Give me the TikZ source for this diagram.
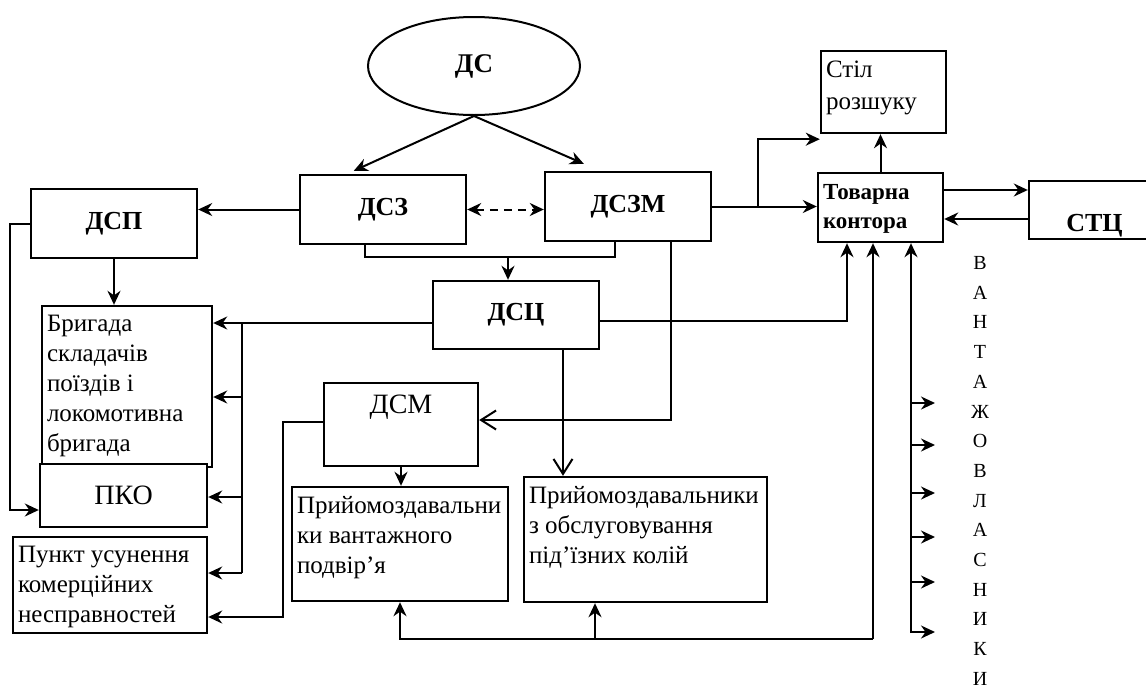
\documentclass[tikz,border=0pt]{standalone}
\usepackage{fontspec}
\setmainfont{Liberation Serif}
\usepackage{tikz}
\usetikzlibrary{shapes.geometric, arrows.meta}
\tikzstyle{block} = [rectangle, draw=black, line width=2.4pt, inner sep=0pt, minimum width=166pt, minimum height=69pt, font=\fontsize{26}{30}\selectfont\bfseries]
\tikzstyle{box} = [rectangle, draw=black, line width=2.4pt, inner sep=0pt]
\tikzstyle{boxtext} = [anchor=north west, align=left, inner xsep=6pt, inner ysep=10pt, font=\fontsize{25}{30}\selectfont]
\tikzstyle{arrow} = [line width=2pt, -{Stealth[length=14pt,width=13pt]}]
\tikzstyle{varrow} = [line width=2pt, -{Straight Barb[length=15pt,width=19pt]}]
\tikzstyle{darrow} = [line width=2pt, dash pattern=on 8pt off 6pt, {Stealth[length=14pt,width=13pt]}-{Stealth[length=14pt,width=13pt]}]
\tikzstyle{line} = [line width=2pt]
\tikzstyle{letter} = [inner sep=0pt, font=\fontsize{20}{20}\selectfont]

\begin{document}
\begin{tikzpicture}[x=1pt, y=-1pt]
\clip (0,0) rectangle (1146,691);
% blocks
\node[ellipse, draw, line width=2pt, minimum width=212pt, minimum height=98pt, font=\fontsize{27}{30}\selectfont\bfseries] (ds) at (474,66) {ДС};
\node[block] (dsz) at (383,209.5) {ДСЗ};
\node[block] (dszm) at (628,206.5) {ДСЗМ};
\node[block] (dsp) at (114,223.5) {ДСП};
\node[block, minimum height=68pt] (dsc) at (516,315) {ДСЦ};
\node[box, minimum width=170pt, minimum height=161pt, label={[boxtext]north west:Бригада\\складачів\\поїздів і\\локомотивна\\бригада}] (brig) at (127,386.5) {};
\node[box, fill=white, minimum width=167pt, minimum height=63pt, font=\fontsize{28}{30}\selectfont] (pko) at (123.5,495.5) {ПКО};
\node[box, minimum width=194pt, minimum height=96pt, label={[boxtext]north west:Пункт усунення\\комерційних\\несправностей}] (punkt) at (110,585) {};
\node[box, minimum width=154pt, minimum height=83pt, label={[anchor=north, inner sep=13pt, font=\fontsize{28}{30}\selectfont]north:ДСМ}] (dsm) at (401,424.5) {};
\node[box, minimum width=216pt, minimum height=114pt, label={[boxtext]north west:Прийомоздавальни\\ки вантажного\\подвір’я}] (pv) at (400,544) {};
\node[box, minimum width=243pt, minimum height=125pt, label={[boxtext]north west:Прийомоздавальники\\з обслуговування\\під’їзних колій}] (pk) at (645.5,539.5) {};
\node[box, minimum width=125pt, minimum height=69pt, label={[boxtext, inner ysep=12pt, font=\fontsize{23}{29}\selectfont\bfseries]north west:Товарна\\контора}] (tk) at (880.5,207.5) {};
\node[box, minimum width=125pt, minimum height=82pt, label={[boxtext, inner ysep=11pt, font=\fontsize{25}{32}\selectfont]north west:Стіл\\розшуку}] (stil) at (883.5,92) {};
\node[box, minimum width=131pt, minimum height=58pt, label={[anchor=south, inner sep=3pt, font=\fontsize{26}{30}\selectfont\bfseries]south:СТЦ}] (stc) at (1094.5,210) {};
% vertical word
\foreach \ch [count=\i] in {В,А,Н,Т,А,Ж,О,В,Л,А,С,Н,И,К,И}
  \node[letter] (v\i) at (980,{233.3+29.7*\i}) {\ch};

% connectors
\draw[arrow] (ds.south) -- ([xshift=55pt,yshift=3pt]dsz.north west);
\draw[arrow] (ds.south) -- ([xshift=40pt,yshift=7pt]dszm.north west);
\draw[darrow] (dsz.east) -- (dsz.east -| dszm.west);
\draw[arrow] (dsz.west) -- (dsz.west -| dsp.east);
\coordinate (brk) at (508,257);
\draw[line] ([xshift=-18pt]dsz.south) |- (brk) -| ([xshift=-13pt]dszm.south);
\draw[arrow] (brk) -- (brk |- dsc.north);
\draw[arrow] (dsp.south) -- (dsp.south |- brig.north);
\draw[arrow] (dsp.west) -- ++(-20pt,0) |- ([yshift=-14.5pt]pko.west);
% ДСЦ to the left column
\coordinate (t0) at (242,323);
\coordinate (t1) at (242,397);
\coordinate (t2) at (242,497);
\coordinate (t3) at (242,573);
\draw[arrow] ([yshift=-8pt]dsc.west) -- ([yshift=-8pt]dsc.west -| brig.east);
\draw[line] (t0) -- (t3);
\draw[arrow] (t1) -- (t1 -| brig.east);
\draw[arrow] (t2) -- (t2 -| pko.east);
\draw[arrow] (t3) -- (t3 -| punkt.east);
\draw[arrow] ([yshift=2.5pt]dsm.west) -- ++(-40pt,0) |- ([yshift=-32pt]punkt.east);
\draw[arrow] (dsm.south) -- (dsm.south |- pv.north);
\draw[varrow] ([xshift=42.5pt]dszm.south) |- ([yshift=4.5pt]dsm.east);
\coordinate (c1) at ([xshift=47pt]dsc.south);
\draw[varrow] (c1) -- (c1 |- pk.north);
\draw[arrow] ([yshift=-6pt]dsc.east) -| ([xshift=-33.5pt]tk.south);
% Товарна контора
\draw[arrow] (dszm.east) -- (dszm.east -| tk.west);
\coordinate (b1) at ([xshift=46pt]dszm.east);
\draw[arrow] (b1) |- ([yshift=-5pt]stil.south west);
\draw[arrow] (tk.north) -- (tk.north |- stil.south);
\coordinate (k1) at ([yshift=17.5pt]tk.east);
\coordinate (k2) at ([yshift=-9pt]stc.west);
\draw[arrow] (k1) -- (k1 -| stc.west);
\draw[arrow] (k2) -- (k2 -| tk.east);
\coordinate (bl) at (873,639);
\coordinate (p1) at ([xshift=-50.5pt]pk.south);
\draw[arrow] (bl) -| (pv.south);
\draw[arrow] (p1 |- bl) -- (p1);
\draw[arrow] (bl) -- (bl |- tk.south);
\coordinate (ow) at (911,633);
\draw[arrow] (ow) -- (ow |- tk.south);
\foreach \yy in {403,445,493,537,582,632} {
  \coordinate (o) at (911,\yy);
  \draw[arrow] (o) -- ++(24pt,0);
}
\end{tikzpicture}
\end{document}
